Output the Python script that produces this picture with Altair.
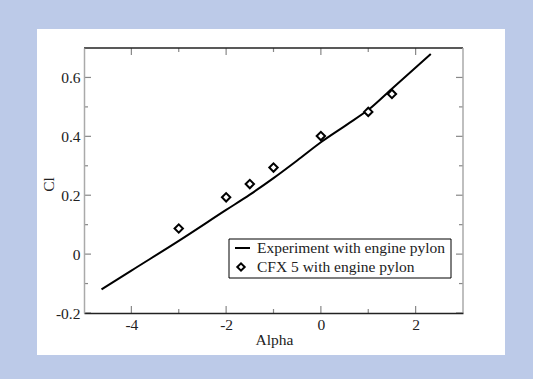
import altair as alt
import pandas as pd

# Experiment (line)
exp_alpha = [-4.63, -4.0, -3.0, -2.0, -1.5, -1.0, -0.5, 0.0, 0.55, 1.0, 1.5, 2.32]
exp_cl = [-0.12, -0.056, 0.045, 0.15, 0.202, 0.258, 0.318, 0.38, 0.44, 0.49, 0.562, 0.68]

# CFX 5 (diamonds)
cfx_alpha = [-3.0, -2.0, -1.5, -1.0, 0.0, 1.0, 1.5]
cfx_cl = [0.087, 0.193, 0.238, 0.294, 0.401, 0.483, 0.544]

x_major = [-4, -2, 0, 2]
x_minor = [-3, -1, 1]
y_major = [-0.2, 0, 0.2, 0.4, 0.6]
y_minor = [-0.1, 0.1, 0.3, 0.5]

legend_labels = ["Experiment with engine pylon", "CFX 5 with engine pylon"]

W, H = 379, 265
FONT = "Liberation Serif"
TXT = "#222222"

xscale = alt.Scale(domain=[-5, 3], nice=False, zero=False)
yscale = alt.Scale(domain=[-0.2, 0.7], nice=False, zero=False)

xaxis = alt.Axis(values=x_major, labelExpr="'' + datum.value", grid=False, ticks=False, tickSize=0,
                 domainColor="#222222", domainWidth=1.5, labelFont=FONT, labelFontSize=15.5,
                 labelColor=TXT, labelPadding=11, labelBaseline="middle", titleFont=FONT,
                 titleFontSize=15.5, titleFontWeight="normal", titleColor=TXT, titleX=190, titleY=26,
                 titleBaseline="middle", titleAlign="center", zindex=2)
yaxis = alt.Axis(values=y_major, labelExpr="'' + datum.value", grid=False, ticks=False, tickSize=0,
                 domainColor="#aaaaaa", domainWidth=1.5, labelFont=FONT, labelFontSize=15.5,
                 labelColor=TXT, labelPadding=4, titleFont=FONT, titleFontSize=15.5,
                 titleFontWeight="normal", titleColor=TXT, titleX=-36, titleY=136,
                 titleBaseline="middle", titleAlign="center", titleAngle=270, zindex=2)


def X(field):
    return alt.X(field, type="quantitative", scale=xscale, axis=xaxis, title="Alpha")


def Y(field):
    return alt.Y(field, type="quantitative", scale=yscale, axis=yaxis, title="Cl")


one = pd.DataFrame({"a": [0]})

panel = alt.Chart(one).mark_rect(color="white").encode(
    x=alt.value(-47), x2=alt.value(421), y=alt.value(-19), y2=alt.value(307))

top_line = alt.Chart(one).mark_rule(color="#222222", strokeWidth=1.5).encode(
    x=alt.value(0), x2=alt.value(W), y=alt.value(0))
right_line = alt.Chart(one).mark_rule(color="#aaaaaa", strokeWidth=1.5).encode(
    x=alt.value(W), y=alt.value(0), y2=alt.value(H))

tick_color = "#888888"
xmaj = pd.DataFrame({"x": x_major})
xmin = pd.DataFrame({"x": x_minor})
ymaj = pd.DataFrame({"y": y_major})
ymin = pd.DataFrame({"y": y_minor})

ticks = []
for df, L in [(xmaj, 7), (xmin, 4)]:
    ticks.append(alt.Chart(df).mark_rule(color=tick_color, strokeWidth=1.2).encode(
        x=X("x"), y=alt.value(H), y2=alt.value(H - L)))
    ticks.append(alt.Chart(df).mark_rule(color=tick_color, strokeWidth=1.2).encode(
        x=X("x"), y=alt.value(0), y2=alt.value(L)))
for df, L in [(ymaj, 7), (ymin, 4)]:
    ticks.append(alt.Chart(df).mark_rule(color=tick_color, strokeWidth=1.2).encode(
        y=Y("y"), x=alt.value(0), x2=alt.value(L)))
    ticks.append(alt.Chart(df).mark_rule(color=tick_color, strokeWidth=1.2).encode(
        y=Y("y"), x=alt.value(W), x2=alt.value(W - L)))

exp_df = pd.DataFrame({"x": exp_alpha, "y": exp_cl})
cfx_df = pd.DataFrame({"x": cfx_alpha, "y": cfx_cl})

line = alt.Chart(exp_df).mark_line(color="black", strokeWidth=2, interpolate="monotone").encode(
    x=X("x"), y=Y("y"))
pts = alt.Chart(cfx_df).mark_point(shape="diamond", size=70, color="black", filled=False,
                                   strokeWidth=2, opacity=1, fill="white", fillOpacity=1).encode(
    x=X("x"), y=Y("y"))

leg_box = alt.Chart(one).mark_rect(fill="white", stroke="black", strokeWidth=1).encode(
    x=alt.value(145), x2=alt.value(367), y=alt.value(191), y2=alt.value(230))
leg_line = alt.Chart(one).mark_rule(color="black", strokeWidth=2).encode(
    x=alt.value(151), x2=alt.value(166), y=alt.value(200))
leg_pt = alt.Chart(one).mark_point(shape="diamond", size=55, color="black", filled=False,
                                   strokeWidth=2, opacity=1).encode(x=alt.value(157), y=alt.value(219))
leg_t1 = alt.Chart(one).mark_text(align="left", baseline="middle", font=FONT, fontSize=15.5,
                                  color=TXT).encode(x=alt.value(173), y=alt.value(200),
                                                    text=alt.value(legend_labels[0]))
leg_t2 = alt.Chart(one).mark_text(align="left", baseline="middle", font=FONT, fontSize=15.5,
                                  color=TXT).encode(x=alt.value(173), y=alt.value(219),
                                                    text=alt.value(legend_labels[1]))

chart = alt.layer(panel, *ticks, top_line, right_line, line, pts,
                  leg_box, leg_line, leg_pt, leg_t1, leg_t2).properties(
    width=W, height=H, autosize="none",
    padding={"left": 84, "top": 48, "right": 70, "bottom": 66},
    background="#BCCAE8",
).configure_view(strokeWidth=0)

chart.save("out.html", embed_options={"renderer": "svg", "actions": False})
